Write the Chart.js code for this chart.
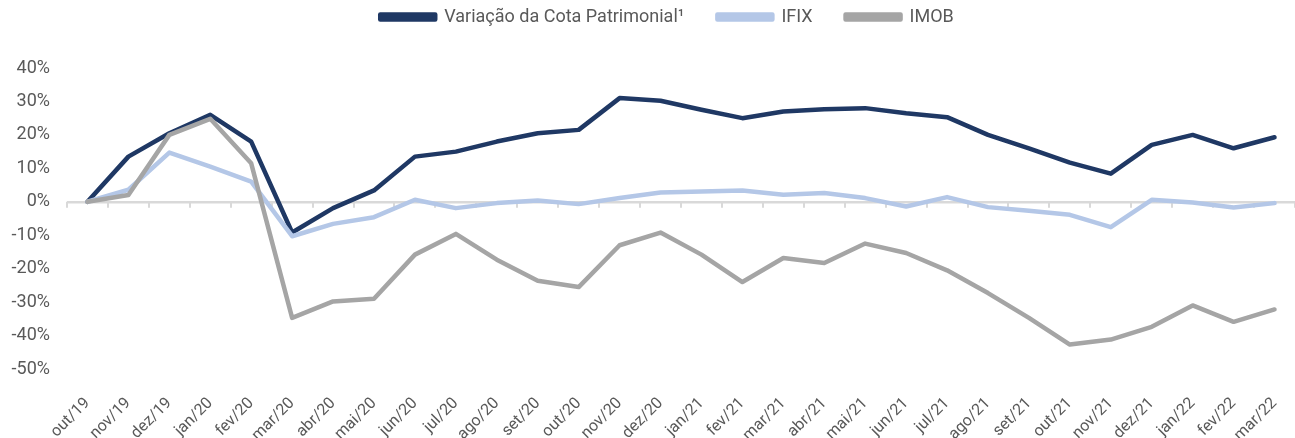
<!DOCTYPE html>
<html>
<head>
<meta charset="utf-8">
<script src="https://cdn.jsdelivr.net/npm/chart.js@4/dist/chart.umd.min.js"></script>
<style>
  html, body { margin: 0; padding: 0; background: #fff; }
  #wrap { width: 1295px; height: 438px; position: relative; }
</style>
</head>
<body>
<div id="wrap"><canvas id="chart"></canvas></div>
<script>
const months = [
  "out/19", "nov/19", "dez/19", "jan/20", "fev/20", "mar/20", "abr/20", "mai/20", "jun/20", "jul/20",
  "ago/20", "set/20", "out/20", "nov/20", "dez/20", "jan/21", "fev/21", "mar/21", "abr/21", "mai/21",
  "jun/21", "jul/21", "ago/21", "set/21", "out/21", "nov/21", "dez/21", "jan/22", "fev/22", "mar/22",
];

// % acumulado desde out/19
const cotaPatrimonial = [
  0, 13.5, 20.5, 26, 18, -9.2, -1.9, 3.4, 13.5, 15,
  18, 20.5, 21.5, 31, 30.2, 27.5, 25, 27, 27.7, 28,
  26.5, 25.3, 20, 16, 11.7, 8.4, 17, 20, 16, 19.3,
];
const ifix = [
  0, 3.6, 14.7, 10.5, 6, -10.3, -6.6, -4.6, 0.6, -1.9,
  -0.4, 0.4, -0.7, 1.1, 2.8, 3.1, 3.4, 2.1, 2.6, 1.1,
  -1.4, 1.4, -1.6, -2.7, -3.9, -7.6, 0.6, -0.2, -1.7, -0.4,
];
const imob = [
  0, 2, 20, 24.8, 11.5, -34.7, -29.8, -29, -15.8, -9.6,
  -17.3, -23.6, -25.5, -13, -9.2, -15.8, -24, -16.8, -18.3, -12.5,
  -15.3, -20.5, -27.3, -34.7, -42.7, -41.2, -37.4, -31, -35.9, -32.2,
];

const yMin = -50;
const yMax = 40;
const yStep = 10;

const textColor = "#595959";
const axisColor = "#d9d9d9";

// small tick marks along the zero line, at category boundaries
const zeroTicks = {
  id: "zeroTicks",
  beforeDatasetsDraw(chart) {
    const x = chart.scales.x;
    const y = chart.scales.y;
    const y0 = y.getPixelForValue(0);
    const half = (x.getPixelForValue(1) - x.getPixelForValue(0)) / 2;
    const ctx = chart.ctx;
    ctx.save();
    ctx.strokeStyle = axisColor;
    ctx.lineWidth = 2;
    for (let i = 0; i <= months.length; i++) {
      const px = Math.round(x.getPixelForValue(i) - half);
      ctx.beginPath();
      ctx.moveTo(px, y0);
      ctx.lineTo(px, y0 + 6);
      ctx.stroke();
    }
    ctx.restore();
  },
};

// leave a gap under the legend and nudge the row a bit to the right
const legendGap = {
  id: "legendGap",
  beforeUpdate(chart) {
    const lg = chart.legend;
    if (!lg || lg._gapPatched) return;
    const fit = lg.fit;
    lg.fit = function () {
      fit.call(this);
      this.height += 32;
      if (this.lineWidths && this.lineWidths.length) this.lineWidths[0] -= 36;
    };
    lg._gapPatched = true;
  },
};

function lineSet(label, data, color, order) {
  return {
    label,
    data,
    borderColor: color,
    backgroundColor: color,
    borderWidth: 4.5,
    pointRadius: 0,
    tension: 0,
    borderJoinStyle: "round",
    borderCapStyle: "round",
    order,
  };
}

new Chart(document.getElementById("chart"), {
  type: "line",
  data: {
    labels: months,
    datasets: [
      lineSet("Variação da Cota Patrimonial¹", cotaPatrimonial, "#1f3864", 3),
      lineSet("IFIX", ifix, "#b4c7e7", 2),
      lineSet("IMOB", imob, "#a5a5a5", 1),
    ],
  },
  options: {
    responsive: true,
    maintainAspectRatio: false,
    animation: false,
    layout: { padding: { left: 0, right: -3, top: -25, bottom: 0 } },
    plugins: {
      tooltip: { enabled: false },
      legend: {
        position: "top",
        labels: {
          boxWidth: 55,
          boxHeight: 5,
          padding: 33,
          color: textColor,
          font: { family: "Roboto", size: 18 },
          sort: (a, b) => a.datasetIndex - b.datasetIndex,
        },
      },
    },
    scales: {
      x: {
        offset: true,
        grid: { display: false, drawTicks: false },
        border: { display: false },
        ticks: {
          color: textColor,
          font: { family: "Roboto", size: 16 },
          minRotation: 45,
          maxRotation: 45,
          autoSkip: false,
          padding: 25,
        },
        afterFit(scale) {
          scale.height = 69;
          scale.paddingLeft = 0;
          scale.paddingRight = 0;
        },
      },
      y: {
        min: yMin,
        max: yMax,
        grid: {
          drawTicks: false,
          lineWidth: 2.5,
          color: (ctx) => (ctx.tick && ctx.tick.value === 0 ? axisColor : "rgba(0,0,0,0)"),
        },
        border: { display: false },
        ticks: {
          stepSize: yStep,
          color: textColor,
          font: { family: "Roboto", size: 18 },
          padding: 17,
          callback: (v) => v + "%",
        },
        afterFit(scale) {
          scale.width = 67;
        },
      },
    },
  },
  plugins: [zeroTicks, legendGap],
});
</script>
</body>
</html>
